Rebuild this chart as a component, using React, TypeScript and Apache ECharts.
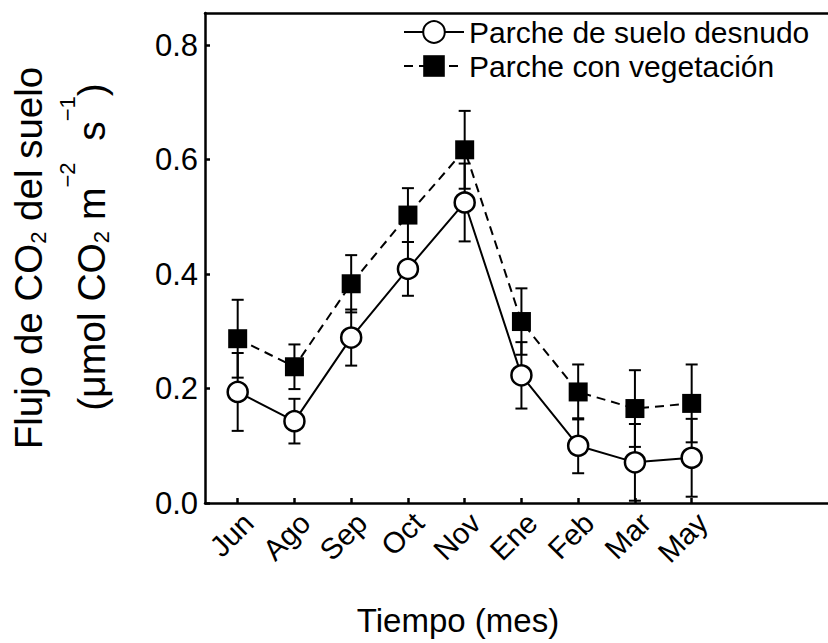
import React, { useEffect, useRef } from "react";
import * as echarts from "echarts";

// Monthly sampling campaigns
const months = ["Jun", "Ago", "Sep", "Oct", "Nov", "Ene", "Feb", "Mar", "May"];
// Soil CO2 flux, bare-soil patch (mean and SE)
const bareSoil = [0.194, 0.143, 0.289, 0.409, 0.525, 0.223, 0.1, 0.071, 0.079];
const bareSoilErr = [0.068, 0.039, 0.049, 0.047, 0.068, 0.058, 0.048, 0.067, 0.068];
// Soil CO2 flux, vegetated patch (mean and SE)
const vegetated = [0.287, 0.238, 0.383, 0.503, 0.617, 0.317, 0.194, 0.165, 0.174];
const vegetatedErr = [0.068, 0.039, 0.05, 0.047, 0.068, 0.058, 0.048, 0.067, 0.068];
// Y-axis ticks
const yTicks = [0, 0.2, 0.4, 0.6, 0.8];

const FONT = "Liberation Sans, Arial, sans-serif";
// The plot frame continues past the right edge of the page
const X_MIN = -0.576;
const X_MAX = 10.79;

const errorBarSeries = (vals: number[], errs: number[]) => ({
  type: "custom",
  z: 1,
  silent: true,
  clip: false,
  data: vals.map((v, i) => [i, v, errs[i]]),
  encode: { x: 0, y: 1 },
  renderItem: (_params: any, api: any) => {
    const x = api.value(0);
    const y = api.value(1);
    const e = api.value(2);
    const top = api.coord([x, y + e]);
    const bot = api.coord([x, y - e]);
    const hw = 6;
    const style = { stroke: "#000", lineWidth: 2 };
    return {
      type: "group",
      children: [
        { type: "line", shape: { x1: top[0], y1: top[1], x2: bot[0], y2: bot[1] }, style },
        { type: "line", shape: { x1: top[0] - hw, y1: top[1], x2: top[0] + hw, y2: top[1] }, style },
        { type: "line", shape: { x1: bot[0] - hw, y1: bot[1], x2: bot[0] + hw, y2: bot[1] }, style },
      ],
    };
  },
});

export default function App() {
  const ref = useRef<HTMLDivElement>(null);

  useEffect(() => {
    document.body.style.margin = "0";
    document.body.style.overflow = "hidden";
    const chart = echarts.init(ref.current!, null, { renderer: "svg" });
    const idx = months.map((_, i) => i);

    const richFor = (size: number) => ({
      a: { fontSize: size, fontFamily: FONT, color: "#000", lineHeight: 70 },
      sub: { fontSize: 22, fontFamily: FONT, color: "#000", lineHeight: 24, padding: [20, 0, 0, 0] },
      sup: { fontSize: 22, fontFamily: FONT, color: "#000", lineHeight: 24, padding: [0, 0, 48, 0] },
    });

    const axisLineStyle = { color: "#000", width: 2.5 };

    chart.setOption({
      animation: false,
      backgroundColor: "#fff",
      grid: {
        left: 205,
        top: 13,
        right: 50,
        bottom: 140,
        show: false,
        containLabel: false,
        outerBoundsMode: "none",
      },
      legend: {
        orient: "vertical",
        left: 398,
        top: 12,
        itemWidth: 60,
        itemHeight: 27,
        itemGap: 4,
        data: ["Parche de suelo desnudo", "Parche con vegetación"],
        textStyle: { fontSize: 30, fontFamily: FONT, color: "#000" },
      },
      xAxis: [
        {
          type: "value",
          min: X_MIN,
          max: X_MAX,
          splitLine: { show: false },
          axisLine: { show: true, onZero: false, lineStyle: axisLineStyle },
          axisTick: {
            show: true,
            inside: true,
            length: 5,
            customValues: idx,
            lineStyle: axisLineStyle,
          },
          axisLabel: {
            customValues: idx,
            formatter: (v: number) => months[Math.round(v)] ?? "",
            rotate: 45,
            margin: 4,
            verticalAlign: "top",
            fontSize: 29.5,
            fontFamily: FONT,
            color: "#000",
          },
        },
        {
          // top frame line
          type: "value",
          position: "top",
          min: X_MIN,
          max: X_MAX,
          splitLine: { show: false },
          axisLine: { show: true, onZero: false, lineStyle: axisLineStyle },
          axisTick: { show: false },
          axisLabel: { show: false },
        },
      ],
      yAxis: {
        type: "value",
        min: 0,
        max: 0.856,
        splitLine: { show: false },
        axisLine: { show: true, onZero: false, lineStyle: axisLineStyle },
        axisTick: {
          show: true,
          inside: true,
          length: 5,
          customValues: yTicks,
          lineStyle: axisLineStyle,
        },
        axisLabel: {
          customValues: yTicks,
          formatter: (v: number) => v.toFixed(1),
          margin: 7,
          fontSize: 31,
          fontFamily: FONT,
          color: "#000",
        },
      },
      graphic: [
        {
          type: "text",
          x: 28,
          y: 258,
          rotation: Math.PI / 2,
          style: {
            text: "{a|Flujo de CO}{sub|2}{a| del suelo}",
            rich: richFor(38.5),
            align: "center",
            verticalAlign: "middle",
          },
        },
        {
          type: "text",
          x: 91,
          y: 247,
          rotation: Math.PI / 2,
          style: {
            text: "{a|(μmol CO}{sub|2}{a| m}{sup|−2}{a|  s}{sup|−1}{a|)}",
            rich: richFor(39),
            align: "center",
            verticalAlign: "middle",
          },
        },
        {
          type: "text",
          x: 458,
          y: 620,
          style: {
            text: "Tiempo (mes)",
            fontSize: 33,
            fontFamily: FONT,
            fill: "#000",
            align: "center",
            verticalAlign: "middle",
          },
        },
      ],
      series: [
        errorBarSeries(bareSoil, bareSoilErr),
        errorBarSeries(vegetated, vegetatedErr),
        {
          name: "Parche de suelo desnudo",
          type: "line",
          z: 3,
          data: bareSoil.map((v, i) => [i, v]),
          symbol: "circle",
          symbolSize: 20,
          lineStyle: { color: "#000", width: 2 },
          itemStyle: { color: "#fff", borderColor: "#000", borderWidth: 2.5 },
        },
        {
          name: "Parche con vegetación",
          type: "line",
          z: 4,
          data: vegetated.map((v, i) => [i, v]),
          symbol: "rect",
          symbolSize: 19,
          lineStyle: { color: "#000", width: 2, type: [9, 6] },
          itemStyle: { color: "#000", borderColor: "#000", borderWidth: 0 },
        },
      ],
    });

    return () => chart.dispose();
  }, []);

  return <div ref={ref} style={{ position: "absolute", left: 0, top: 0, width: 900, height: 643 }} />;
}
